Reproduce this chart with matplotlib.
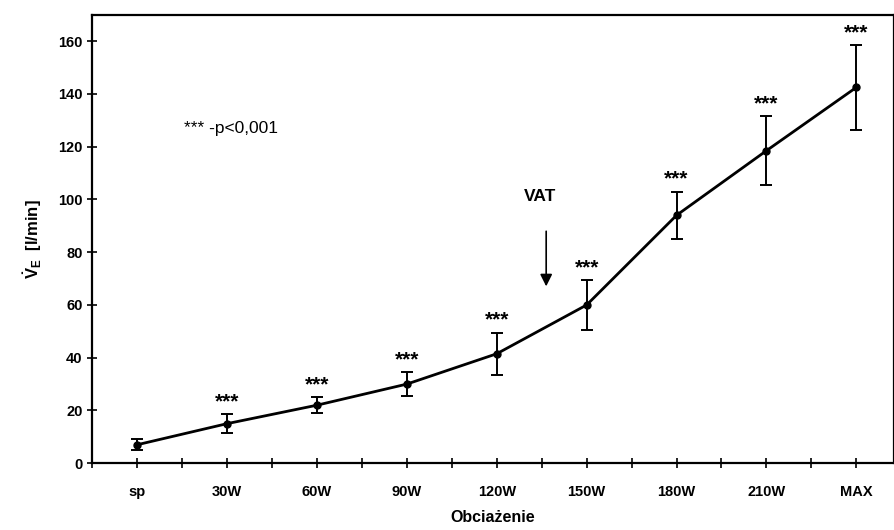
import numpy as np
import matplotlib
matplotlib.use('Agg')
import matplotlib.pyplot as plt
from matplotlib.ticker import MultipleLocator

plt.rcParams['font.family'] = ['Liberation Sans', 'DejaVu Sans']
plt.rcParams['mathtext.fontset'] = 'custom'
plt.rcParams['mathtext.rm'] = 'Liberation Sans'
plt.rcParams['mathtext.bf'] = 'Liberation Sans:bold'

# dane
kategorie = ['sp', '30W', '60W', '90W', '120W', '150W', '180W', '210W', 'MAX']
ve_srednia = [7, 15, 22, 30, 41.5, 60, 94, 118.5, 142.5]
ve_sd = [2, 3.5, 3, 4.5, 8, 9.5, 9, 13, 16]
istotne = [False, True, True, True, True, True, True, True, True]

x = np.arange(len(kategorie))

fig = plt.figure(figsize=(8.95, 5.30), dpi=100)
ax = fig.add_axes([0.103, 0.126, 0.896, 0.846])

ax.errorbar(x, ve_srednia, yerr=ve_sd, color='black', lw=2, marker='o', ms=5,
            elinewidth=1.4, capsize=4, capthick=1.4)

# gwiazdki nad słupkami błędów
for xi, m, s, sig in zip(x, ve_srednia, ve_sd, istotne):
    if sig:
        ax.annotate('***', (xi, m + s), xytext=(0, 2), textcoords='offset points',
                    ha='center', va='bottom', fontsize=15, fontweight='bold')

ax.text(0.52, 127, '*** -p<0,001', fontsize=12.5, va='center', ha='left')

ax.text(4.48, 101, 'VAT', fontsize=12.5, fontweight='bold', ha='center', va='center')
ax.annotate('', xy=(4.55, 66), xytext=(4.55, 89),
            arrowprops=dict(arrowstyle='-|>', color='black', lw=1.2,
                            mutation_scale=18))

ax.set_xlim(-0.5, 8.42)
ax.set_ylim(0, 170)
ax.set_xticks(x)
ax.set_xticklabels(kategorie, fontweight='bold', fontsize=10.5)
ax.xaxis.set_minor_locator(MultipleLocator(0.5))
ax.yaxis.set_major_locator(MultipleLocator(20))
for lab in ax.get_yticklabels():
    lab.set_fontweight('bold')
ax.tick_params(axis='both', which='both', direction='inout', length=7, width=1.2,
               labelsize=10.5)
ax.tick_params(axis='x', pad=12)
ax.tick_params(axis='y', which='minor', left=False)

for sp in ax.spines.values():
    sp.set_linewidth(1.6)

ax.set_xlabel('Obciażenie', fontweight='bold', fontsize=11.5, labelpad=8)
ax.set_ylabel(r'$\mathbf{\dot{V}_E}$  [l/min]', fontweight='bold', fontsize=12,
              labelpad=10)

fig.savefig('out.png', dpi=100)
